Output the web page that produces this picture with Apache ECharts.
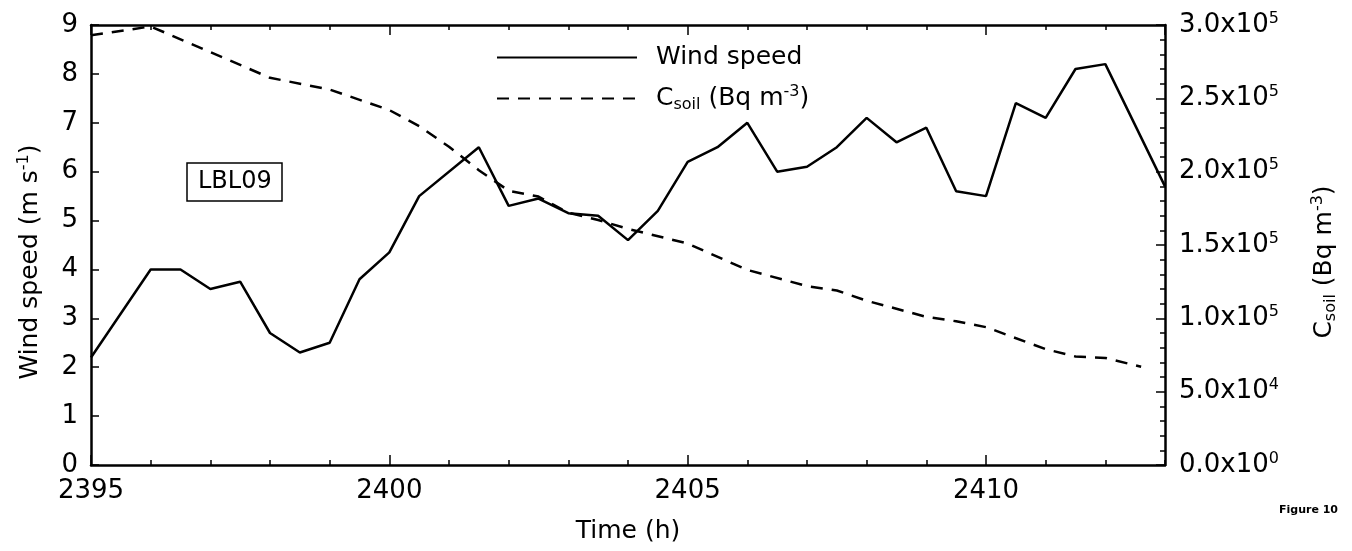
<!DOCTYPE html>
<html>
<head>
<meta charset="utf-8">
<script src="https://cdn.jsdelivr.net/npm/echarts@6/dist/echarts.min.js"></script>
<style>
  html, body { margin: 0; padding: 0; background: #fff; }
  #chart { width: 1352px; height: 551px; }
</style>
</head>
<body>
<div id="chart"></div>
<script>
// wind speed (m/s), every half hour
const windHours = [2395, 2396, 2396.5, 2397, 2397.5, 2398, 2398.5, 2399, 2399.5, 2400, 2400.5, 2401.5, 2402, 2402.5,
  2403, 2403.5, 2404, 2404.5, 2405, 2405.5, 2406, 2406.5, 2407, 2407.5, 2408, 2408.5, 2409, 2409.5, 2410, 2410.5,
  2411, 2411.5, 2412, 2413];
const windSpeed = [2.2, 4.0, 4.0, 3.6, 3.75, 2.7, 2.3, 2.5, 3.8, 4.35, 5.5, 6.5, 5.3, 5.45,
  5.15, 5.1, 4.6, 5.2, 6.2, 6.5, 7.0, 6.0, 6.1, 6.5, 7.1, 6.6, 6.9, 5.6, 5.5, 7.4,
  7.1, 8.1, 8.2, 5.7];

// soil gas concentration (Bq m-3)
const csoilHours = [2395, 2396, 2398, 2399, 2400, 2400.5, 2401, 2401.5, 2402, 2402.5, 2403, 2403.5, 2404, 2405,
  2406, 2407, 2407.5, 2408, 2409, 2409.5, 2410, 2411, 2411.5, 2412, 2412.6];
const csoil = [2.93e5, 2.99e5, 2.64e5, 2.56e5, 2.42e5, 2.31e5, 2.17e5, 2.01e5, 1.87e5, 1.83e5, 1.72e5, 1.67e5, 1.61e5, 1.51e5,
  1.33e5, 1.22e5, 1.19e5, 1.12e5, 1.01e5, 9.8e4, 9.4e4, 7.9e4, 7.4e4, 7.3e4, 6.7e4];

const xTicksMajor = [2395, 2400, 2405, 2410];

const FONT = 'DejaVu Sans';
const richText = {
  sup: { fontSize: 16, fontFamily: FONT, color: '#000', padding: [0, 0, 13, 0] },
  sub: { fontSize: 16, fontFamily: FONT, color: '#000', padding: [12, 0, 0, 0] }
};

const sci = (v) => {
  if (v === 0) return '0.0x10{sup|0}';
  const e = Math.floor(Math.log10(v) + 1e-9);
  return (v / Math.pow(10, e)).toFixed(1) + 'x10{sup|' + e + '}';
};

const chart = echarts.init(document.getElementById('chart'), null, { renderer: 'canvas' });
const axisLine = { show: true, lineStyle: { color: '#000', width: 2.5 } };
const tickStyle = { color: '#000', width: 1.5 };
const option = {
  backgroundColor: '#fff',
  animation: false,
  textStyle: { fontFamily: FONT, color: '#000' },
  title: [
    {
      text: 'LBL09', left: 187, top: 163, padding: [7, 11],
      borderColor: '#000', borderWidth: 1.5,
      textStyle: { fontSize: 24, fontWeight: 'normal', fontFamily: FONT, color: '#000' }
    },
    {
      text: 'Figure 10', left: 1279, top: 505, padding: 0,
      textStyle: { fontSize: 11, fontWeight: 'bold', fontFamily: FONT, color: '#000' }
    }
  ],
  legend: {
    orient: 'vertical', left: 491, top: 40,
    itemWidth: 140, itemHeight: 14, itemGap: 14,
    itemStyle: { opacity: 0 },
    textStyle: { fontSize: 25, fontFamily: FONT, color: '#000', padding: [0, 0, 0, 14], rich: richText },
    formatter: (name) => name === 'Wind speed' ? 'Wind speed' : 'C{sub|soil} (Bq m{sup|-3})',
    data: ['Wind speed', 'Csoil']
  },
  grid: { left: 91, right: 187, top: 25, bottom: 86 },
  xAxis: [
    {
      type: 'value', position: 'bottom', min: 2395, max: 2413, interval: 5,
      name: 'Time (h)', nameLocation: 'middle', nameGap: 54,
      nameTextStyle: { fontSize: 25, fontFamily: FONT, color: '#000' },
      axisLine,
      axisTick: { inside: true, length: 10, lineStyle: tickStyle },
      axisLabel: {
        fontSize: 26, fontFamily: FONT, color: '#000', margin: 13, showMaxLabel: false,
        formatter: (v) => xTicksMajor.includes(v) ? String(v) : ''
      },
      splitLine: { show: false }
    },
    {
      type: 'value', position: 'bottom', min: 2395, max: 2413, interval: 1,
      axisLine: { show: false },
      axisTick: { inside: true, length: 5, lineStyle: tickStyle },
      axisLabel: { show: false }, splitLine: { show: false }
    },
    {
      type: 'value', position: 'top', min: 2395, max: 2413, interval: 5,
      axisLine,
      axisTick: { inside: true, length: 10, lineStyle: tickStyle },
      axisLabel: { show: false }, splitLine: { show: false }
    },
    {
      type: 'value', position: 'top', min: 2395, max: 2413, interval: 1,
      axisLine: { show: false },
      axisTick: { inside: true, length: 5, lineStyle: tickStyle },
      axisLabel: { show: false }, splitLine: { show: false }
    }
  ],
  yAxis: [
    {
      type: 'value', position: 'left', min: 0, max: 9, interval: 1,
      name: 'Wind speed (m s{sup|-1})', nameLocation: 'middle', nameGap: 46, nameRotate: 90,
      nameTextStyle: { fontSize: 25, fontFamily: FONT, color: '#000', rich: richText, padding: [0, 34, 0, 0] },
      axisLine,
      axisTick: { inside: true, length: 8, lineStyle: tickStyle },
      axisLabel: { fontSize: 26, fontFamily: FONT, color: '#000', margin: 13 },
      splitLine: { show: false }
    },
    {
      type: 'value', position: 'right', min: 0, max: 3e5, interval: 5e4,
      name: 'C{sub|soil} (Bq m{sup|-3})', nameLocation: 'middle', nameGap: 145, nameRotate: 90,
      nameTextStyle: { fontSize: 25, fontFamily: FONT, color: '#000', rich: richText, padding: [0, 34, 0, 0] },
      axisLine,
      axisTick: { inside: true, length: 9, lineStyle: tickStyle },
      minorTick: { show: true, splitNumber: 5, length: 5, lineStyle: tickStyle },
      axisLabel: {
        fontSize: 26, fontFamily: FONT, color: '#000', margin: 14,
        formatter: sci, rich: richText
      },
      splitLine: { show: false }
    }
  ],
  series: [
    {
      name: 'Wind speed', type: 'line', xAxisIndex: 0, yAxisIndex: 0,
      symbol: 'none', lineStyle: { color: '#000', width: 2.5 }, itemStyle: { color: '#000' },
      data: windHours.map((h, i) => [h, windSpeed[i]])
    },
    {
      name: 'Csoil', type: 'line', xAxisIndex: 0, yAxisIndex: 1,
      symbol: 'none', lineStyle: { color: '#000', width: 2.5, type: [12, 9] }, itemStyle: { color: '#000' },
      data: csoilHours.map((h, i) => [h, csoil[i]])
    }
  ]
};
chart.setOption(option);
</script>
</body>
</html>
